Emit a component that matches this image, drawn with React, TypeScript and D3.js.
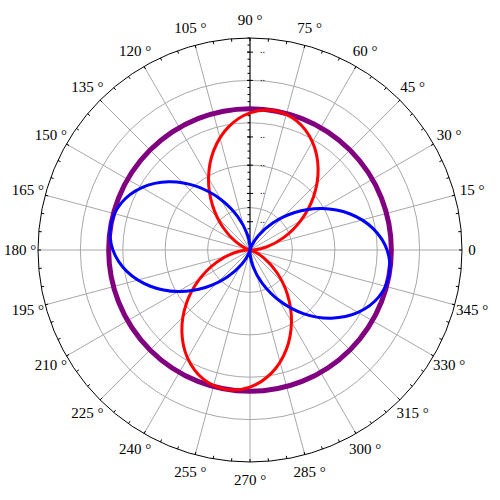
import React from 'react'
import * as d3 from 'd3'

// polar samples, angle in degrees (counter-clockwise from east)
const sampleAngles = [
  0, 10, 20, 30, 40, 50, 60, 70, 80, 90, 100, 110, 120, 130, 140, 150, 160, 170,
  180, 190, 200, 210, 220, 230, 240, 250, 260, 270, 280, 290, 300, 310, 320, 330, 340, 350
]
const blueRadii = [
  0.97, 0.883, 0.75, 0.587, 0.413, 0.25, 0.117, 0.03, 0, 0.03, 0.117, 0.25, 0.413, 0.587, 0.75, 0.883, 0.97, 1.0,
  0.97, 0.883, 0.75, 0.587, 0.413, 0.25, 0.117, 0.03, 0, 0.03, 0.117, 0.25, 0.413, 0.587, 0.75, 0.883, 0.97, 1.0
]
const redRadii = [
  0.03, 0.117, 0.25, 0.413, 0.587, 0.75, 0.883, 0.97, 1.0, 0.97, 0.883, 0.75, 0.587, 0.413, 0.25, 0.117, 0.03, 0,
  0.03, 0.117, 0.25, 0.413, 0.587, 0.75, 0.883, 0.97, 1.0, 0.97, 0.883, 0.75, 0.587, 0.413, 0.25, 0.117, 0.03, 0
]
const purpleRadius = 1

const gridRadii = [0.3, 0.6, 0.9, 1.2]
const outerRadius = 1.5
const spokeAngles = [0, 15, 30, 45, 60, 75, 90, 105, 120, 135, 150, 165, 180, 195, 210, 225, 240, 255, 270, 285, 300, 315, 330, 345]
const spokeLabels = [
  '0', '15 °', '30 °', '45 °', '60 °', '75 °', '90 °', '105 °', '120 °', '135 °', '150 °', '165 °',
  '180 °', '195 °', '210 °', '225 °', '240 °', '255 °', '270 °', '285 °', '300 °', '315 °', '330 °', '345 °'
]
const radialLabel = '..'

const W = 500, H = 500
const cx = 250, cy = 250

export default function App() {
  const r = d3.scaleLinear().domain([0, outerRadius]).range([0, 212])
  const rad = (deg: number) => (deg * Math.PI) / 180
  const px = (deg: number, v: number) => cx + v * Math.cos(rad(deg))
  const py = (deg: number, v: number) => cy - v * Math.sin(rad(deg))

  const radial = d3.lineRadial<[number, number]>()
    .angle(d => Math.PI / 2 - rad(d[0]))
    .radius(d => r(d[1]))
    .curve(d3.curveCatmullRomClosed.alpha(0.5))

  const bluePath = radial(sampleAngles.map((a, i) => [a, blueRadii[i]]))
  const redPath = radial(sampleAngles.map((a, i) => [a, redRadii[i]]))

  const R = r(outerRadius)
  const minorAngles = d3.range(0, 360, 5)
  const axisTicks = r.ticks(30)
  const axisMajor = r.ticks(6)

  const font = '"Liberation Serif", "Times New Roman", serif'

  return (
    <svg width={W} height={H} style={{ position: 'absolute', left: 0, top: 0, background: '#fff' }}>
      <g transform={`translate(${cx},${cy})`}>
        {gridRadii.map(g => (
          <circle key={g} r={r(g)} fill="none" stroke="#a8a8a8" strokeWidth={1} />
        ))}
      </g>
      {spokeAngles.map(a => (
        <line key={a} x1={cx} y1={cy} x2={px(a, R)} y2={py(a, R)} stroke="#a8a8a8" strokeWidth={1} />
      ))}
      <circle cx={cx} cy={cy} r={R} fill="none" stroke="#000" strokeWidth={1} />
      {minorAngles.map(a => (
        <line key={a} x1={px(a, R - 3)} y1={py(a, R - 3)} x2={px(a, R)} y2={py(a, R)} stroke="#000" strokeWidth={1} />
      ))}

      {/* radial axis along 90 degrees */}
      <line x1={cx} y1={cy} x2={cx} y2={cy - R} stroke="#000" strokeWidth={1} />
      {axisTicks.map(t => (
        <line key={t} x1={cx - 2.5} y1={cy - r(t)} x2={cx} y2={cy - r(t)} stroke="#000" strokeWidth={1} />
      ))}
      {axisMajor.filter(t => t > 0).map(t => (
        <g key={t}>
          <line x1={cx - 3} y1={cy - r(t)} x2={cx + 3} y2={cy - r(t)} stroke="#000" strokeWidth={1} />
          <text x={cx + 10} y={cy - r(t) + 1} fontFamily={font} fontSize={10} fill="#000">{radialLabel}</text>
        </g>
      ))}

      {spokeLabels.map((lab, i) => {
        const a = spokeAngles[i]
        const lr = lab === '0' ? 222 : 230
        return (
          <text key={lab} x={px(a, lr)} y={py(a, lr)} textAnchor="middle" dominantBaseline="central"
            fontFamily={font} fontSize={15} fill="#000">{lab}</text>
        )
      })}

      <circle cx={cx} cy={cy} r={r(purpleRadius)} fill="none" stroke="#800080" strokeWidth={5} />
      <path transform={`translate(${cx},${cy})`} d={redPath ?? ''} fill="none" stroke="#ff0000" strokeWidth={3} />
      <path transform={`translate(${cx},${cy})`} d={bluePath ?? ''} fill="none" stroke="#0000ff" strokeWidth={3} />
    </svg>
  )
}
